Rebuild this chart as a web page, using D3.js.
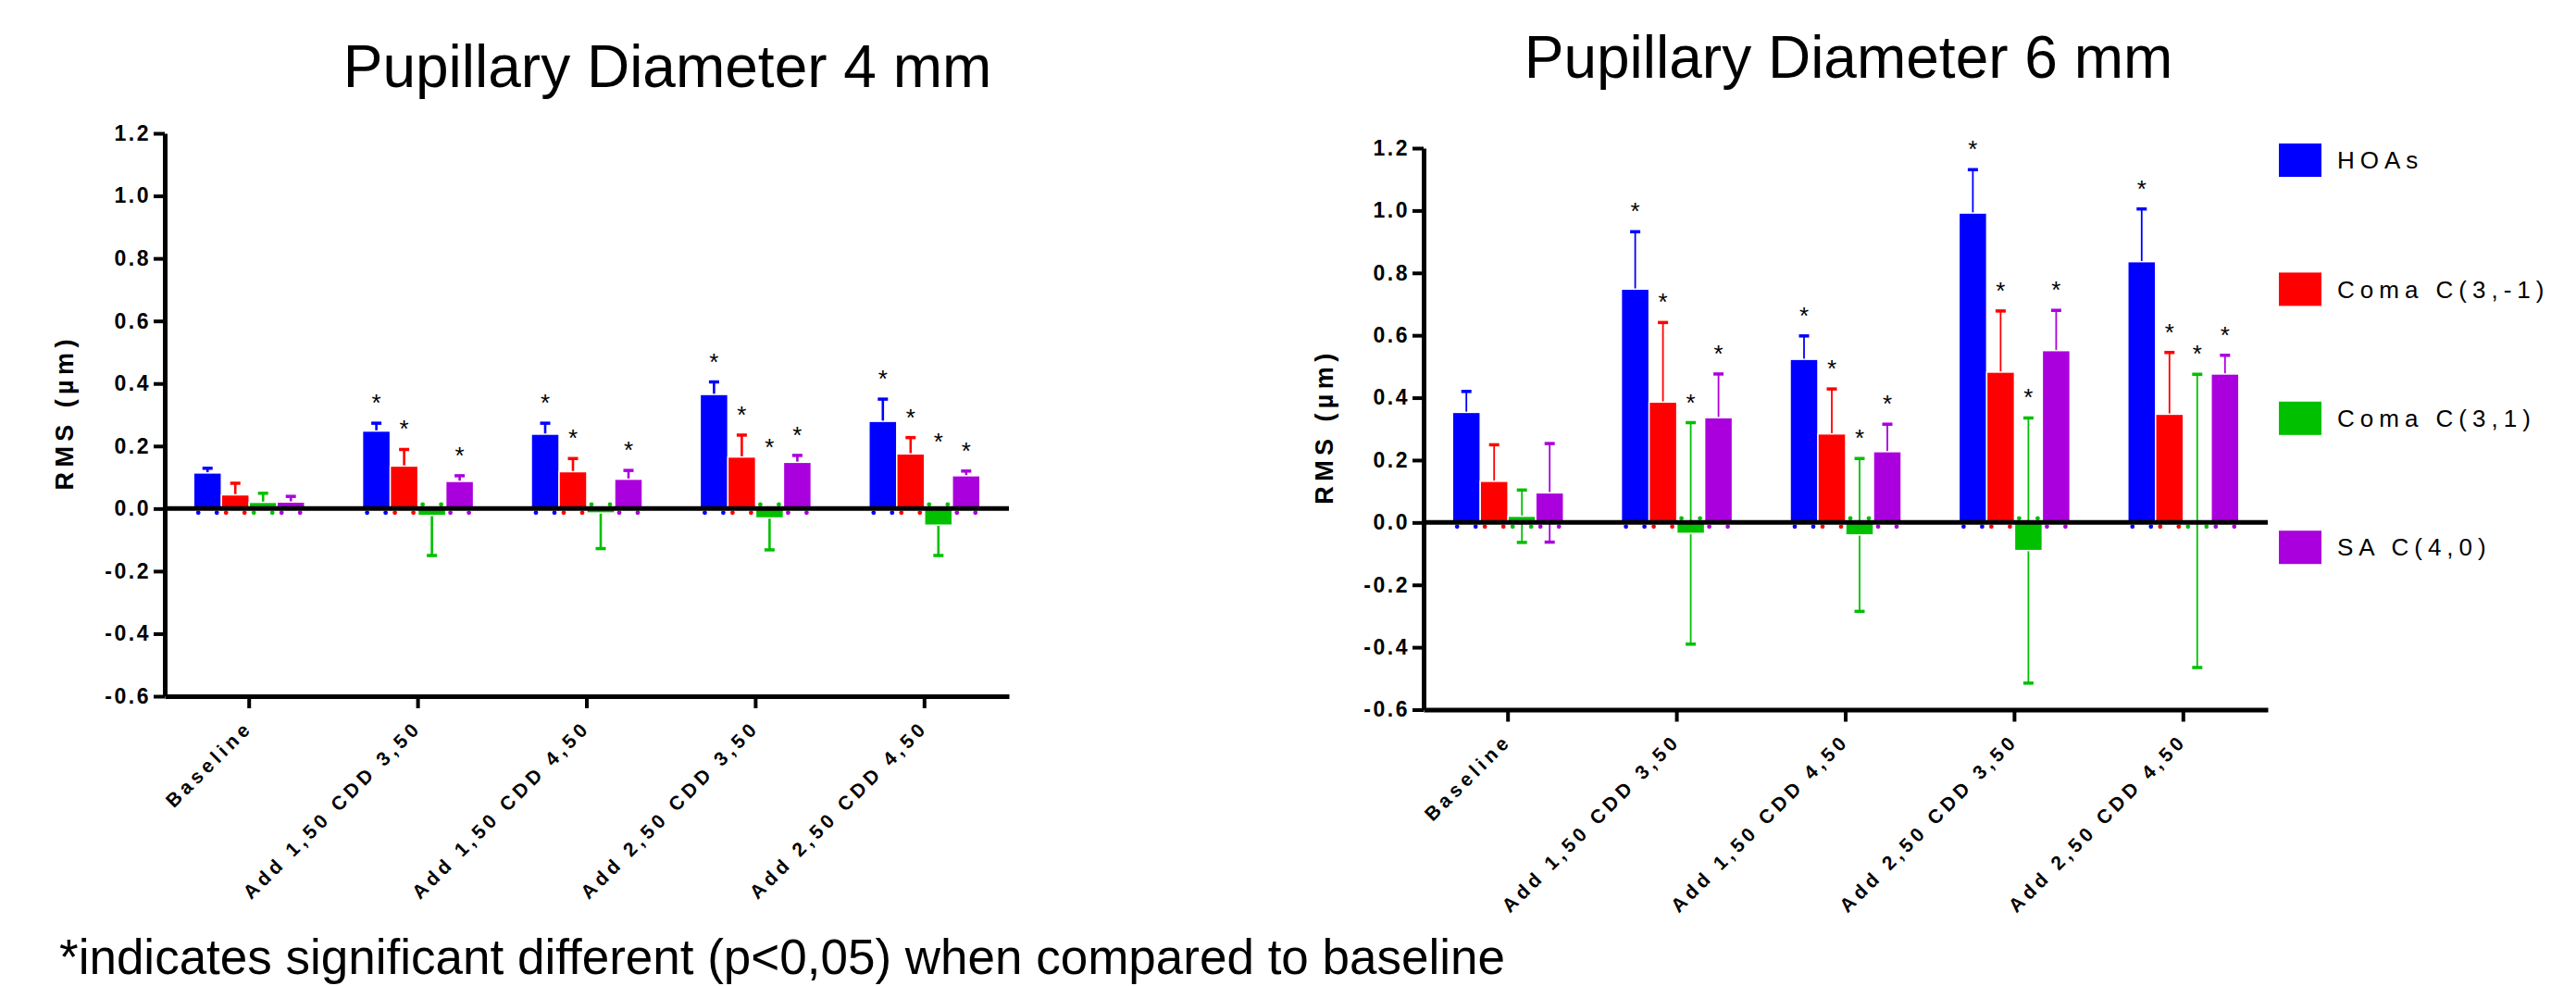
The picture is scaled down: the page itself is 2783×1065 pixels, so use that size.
<!DOCTYPE html>
<html>
<head>
<meta charset="utf-8">
<script src="https://cdn.jsdelivr.net/npm/d3@7"></script>
<style>
  body { margin: 0; background: #fff; }
  svg { display: block; }
</style>
</head>
<body>
<div id="chart"></div>
<script>
// page size
const width = 2783, height = 1065;

// categories, series and axis ticks
const categories = ["Baseline", "Add 1,50 CDD 3,50", "Add 1,50 CDD 4,50", "Add 2,50 CDD 3,50", "Add 2,50 CDD 4,50"];
const series = ["HOAs", "Coma C(3,-1)", "Coma C(3,1)", "SA C(4,0)"];
const colors = ["#0000ff", "#ff0000", "#00c000", "#aa00dd"];
const yTicks = [-0.6, -0.4, -0.2, 0.0, 0.2, 0.4, 0.6, 0.8, 1.0, 1.2];

// pupil 4 mm: means and SD per series (one value per category)
const hoas4 = [0.114, 0.248, 0.238, 0.365, 0.279];
const comaV4 = [0.044, 0.136, 0.118, 0.165, 0.175];
const comaH4 = [0.020, -0.022, -0.014, -0.030, -0.053];
const sa4 = [0.021, 0.087, 0.094, 0.148, 0.105];
const hoas4Sd = [0.015, 0.025, 0.035, 0.040, 0.071];
const comaV4Sd = [0.037, 0.053, 0.042, 0.070, 0.052];
const comaH4Sd = [0.029, 0.128, 0.114, 0.102, 0.097];
const sa4Sd = [0.018, 0.018, 0.028, 0.022, 0.015];
// significance vs baseline (1 = star)
const hoas4Sig = [0, 1, 1, 1, 1];
const comaV4Sig = [0, 1, 1, 1, 1];
const comaH4Sig = [0, 0, 0, 1, 1];
const sa4Sig = [0, 1, 1, 1, 1];

// pupil 6 mm
const hoas6 = [0.353, 0.748, 0.523, 0.992, 0.836];
const comaV6 = [0.132, 0.386, 0.284, 0.482, 0.347];
const comaH6 = [0.020, -0.035, -0.040, -0.090, 0.005];
const sa6 = [0.095, 0.336, 0.227, 0.551, 0.476];
const hoas6Sd = [0.067, 0.184, 0.075, 0.139, 0.169];
const comaV6Sd = [0.117, 0.255, 0.144, 0.196, 0.198];
const comaH6Sd = [0.084, 0.355, 0.245, 0.425, 0.470];
const sa6Sd = [0.158, 0.140, 0.088, 0.129, 0.060];
const hoas6Sig = [0, 1, 1, 1, 1];
const comaV6Sig = [0, 1, 1, 1, 1];
const comaH6Sig = [0, 1, 1, 1, 1];
const sa6Sig = [0, 1, 1, 1, 1];

const font = "'Liberation Sans', Arial, sans-serif";

const svg = d3.select("#chart")
  .append("svg")
  .attr("width", width)
  .attr("height", height)
  .attr("viewBox", [0, 0, width, height]);

// the two panels (layout only, data comes from the arrays above)
const panels = [
  {
    title: "Pupillary Diameter 4 mm", titleX: 721, titleY: 94,
    left: 178, right: 1090, top: 144, bottom: 752, labelX: 70,
    means: [hoas4, comaV4, comaH4, sa4],
    sds: [hoas4Sd, comaV4Sd, comaH4Sd, sa4Sd],
    sig: [hoas4Sig, comaV4Sig, comaH4Sig, sa4Sig],
    bothWays: false, stem: 2.6
  },
  {
    title: "Pupillary Diameter 6 mm", titleX: 1997, titleY: 84,
    left: 1538, right: 2450, top: 160, bottom: 766.5, labelX: 1431,
    means: [hoas6, comaV6, comaH6, sa6],
    sds: [hoas6Sd, comaV6Sd, comaH6Sd, sa6Sd],
    sig: [hoas6Sig, comaV6Sig, comaH6Sig, sa6Sig],
    bothWays: true, stem: 1.8
  }
];

panels.forEach(p => {
  const g = svg.append("g");

  const y = d3.scaleLinear().domain([-0.6, 1.2]).range([p.bottom, p.top]);
  const x = d3.scaleBand().domain(categories).range([p.left, p.right]);
  const groupW = 120;
  const xs = d3.scaleBand().domain(series).range([0, groupW]);
  const bw = xs.bandwidth();

  // rows: one per bar
  const rows = [];
  categories.forEach((c, j) => {
    series.forEach((s, i) => {
      rows.push({
        cat: c, ser: s, i: i,
        m: p.means[i][j], sd: p.sds[i][j], sig: p.sig[i][j],
        x0: x(c) + (x.bandwidth() - groupW) / 2 + xs(s)
      });
    });
  });

  // title
  g.append("text")
    .attr("x", p.titleX).attr("y", p.titleY)
    .attr("text-anchor", "middle")
    .attr("font-family", font).attr("font-size", 64)
    .text(p.title);

  // y axis
  const yAxis = g.append("g")
    .attr("transform", `translate(${p.left},0)`)
    .call(d3.axisLeft(y).tickValues(yTicks).tickFormat(d => d.toFixed(1))
      .tickSize(12).tickSizeOuter(0).tickPadding(3))
    .attr("font-family", font).attr("font-size", 23).attr("font-weight", "bold");
  yAxis.select(".domain").attr("stroke-width", 5);
  yAxis.selectAll(".tick line").attr("stroke-width", 4);
  yAxis.selectAll(".tick text").attr("fill", "#000").attr("letter-spacing", 2.5);

  // x axis with rotated labels
  const xAxis = g.append("g")
    .attr("transform", `translate(0,${p.bottom})`)
    .call(d3.axisBottom(x).tickSize(13).tickSizeOuter(0))
    .attr("font-family", font).attr("font-size", 21).attr("font-weight", "bold");
  xAxis.select(".domain").attr("stroke-width", 5);
  xAxis.selectAll(".tick line").attr("stroke-width", 4);
  xAxis.selectAll(".tick text")
    .attr("fill", "#000")
    .attr("letter-spacing", 4.5)
    .attr("y", 0).attr("dy", 0)
    .attr("text-anchor", "end")
    .attr("transform", "translate(5,35) rotate(-45)");

  // y axis title
  g.append("text")
    .attr("transform", `translate(${p.labelX},${(p.top + p.bottom) / 2}) rotate(-90)`)
    .attr("text-anchor", "middle")
    .attr("dy", "0.35em")
    .attr("font-family", font).attr("font-size", 27).attr("font-weight", "bold")
    .attr("textLength", 163).attr("lengthAdjust", "spacing")
    .text("RMS (\u00b5m)");

  // error bars (behind the bars)
  const eb = g.append("g");
  rows.forEach(r => {
    const cx = r.x0 + bw / 2;
    let lo, hi;
    if (p.bothWays) { lo = r.m - r.sd; hi = r.m + r.sd; }
    else if (r.m >= 0) { lo = r.m; hi = r.m + r.sd; }
    else { lo = r.m - r.sd; hi = r.m; }
    eb.append("line")
      .attr("x1", cx).attr("x2", cx)
      .attr("y1", y(lo)).attr("y2", y(hi))
      .attr("stroke", colors[r.i]).attr("stroke-width", p.stem);
    const caps = p.bothWays ? [lo, hi] : [r.m >= 0 ? hi : lo];
    caps.forEach(v => {
      eb.append("line")
        .attr("x1", cx - 5.5).attr("x2", cx + 5.5)
        .attr("y1", y(v)).attr("y2", y(v))
        .attr("stroke", colors[r.i]).attr("stroke-width", 3.5);
    });
  });

  // bars
  g.append("g")
    .selectAll("rect")
    .data(rows)
    .join("rect")
    .attr("x", d => d.x0)
    .attr("width", bw)
    .attr("y", d => y(Math.max(0, d.m)))
    .attr("height", d => Math.abs(y(d.m) - y(0)))
    .attr("fill", d => colors[d.i])
    .attr("stroke", "#fff")
    .attr("stroke-width", 1.5);

  // small markers at the foot of each bar
  const dots = g.append("g");
  rows.forEach(r => {
    const dy = r.m >= 0 ? 4.5 : -4.5;
    [r.x0 + 5, r.x0 + bw - 5].forEach(cx => {
      dots.append("circle")
        .attr("cx", cx).attr("cy", y(0) + dy).attr("r", 2.4)
        .attr("fill", colors[r.i]);
    });
  });

  // zero line
  g.append("line")
    .attr("x1", p.left).attr("x2", p.right)
    .attr("y1", y(0)).attr("y2", y(0))
    .attr("stroke", "#000").attr("stroke-width", 5);

  // significance stars
  g.append("g")
    .selectAll("text")
    .data(rows.filter(d => d.sig))
    .join("text")
    .attr("x", d => d.x0 + bw / 2)
    .attr("y", d => y((p.bothWays ? d.m : Math.abs(d.m)) + d.sd) - 28 + 15)
    .attr("text-anchor", "middle")
    .attr("font-family", font).attr("font-size", 26)
    .text("*");
});

// legend
const legend = svg.append("g").attr("font-family", font).attr("font-size", 26);
series.forEach((s, i) => {
  const ly = 155 + i * 139.4;
  legend.append("rect")
    .attr("x", 2462).attr("y", ly)
    .attr("width", 46).attr("height", 36)
    .attr("fill", colors[i]);
  legend.append("text")
    .attr("x", 2525).attr("y", ly + 18)
    .attr("dy", "0.35em")
    .attr("letter-spacing", 6)
    .text(s);
});

// footnote
svg.append("text")
  .attr("x", 64).attr("y", 1052)
  .attr("font-family", font).attr("font-size", 53)
  .text("*indicates significant different (p<0,05) when compared to baseline");
</script>
</body>
</html>
